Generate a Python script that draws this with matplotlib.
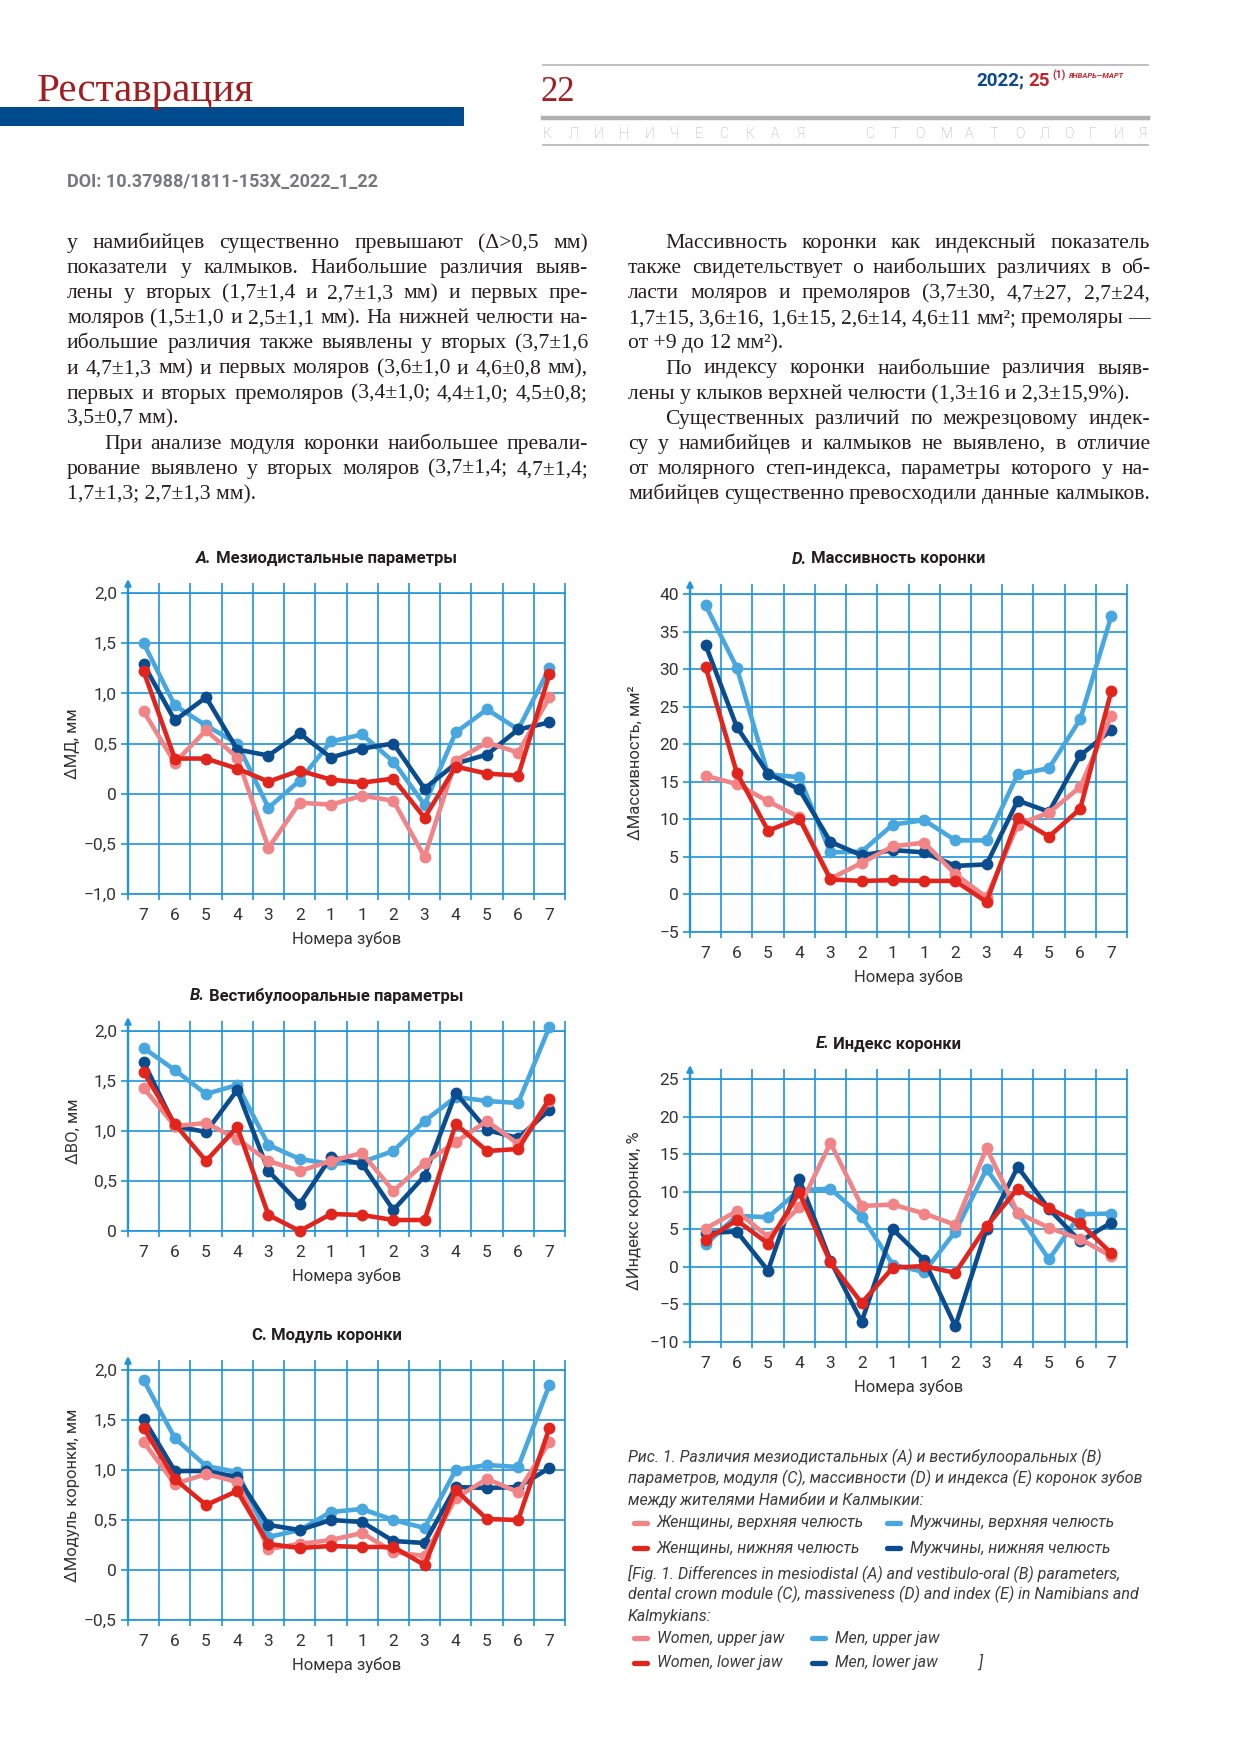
import matplotlib
matplotlib.use("Agg")
import matplotlib.pyplot as plt
from matplotlib.lines import Line2D
from matplotlib.patches import Rectangle
import numpy as np

# ---- data ----
teeth = ["7", "6", "5", "4", "3", "2", "1", "1", "2", "3", "4", "5", "6", "7"]

A_women_upper = [0.82, 0.31, 0.63, 0.36, -0.54, -0.09, -0.11, -0.02, -0.07, -0.63, 0.33, 0.51, 0.41, 0.96]
A_women_lower = [1.22, 0.35, 0.35, 0.25, 0.12, 0.23, 0.14, 0.11, 0.15, -0.24, 0.27, 0.20, 0.18, 1.19]
A_men_upper = [1.50, 0.88, 0.68, 0.50, -0.14, 0.13, 0.52, 0.59, 0.32, -0.11, 0.61, 0.84, 0.64, 1.25]
A_men_lower = [1.29, 0.73, 0.96, 0.44, 0.38, 0.60, 0.36, 0.45, 0.50, 0.05, 0.30, 0.39, 0.64, 0.71]

B_women_upper = [1.43, 1.05, 1.08, 0.92, 0.70, 0.60, 0.70, 0.78, 0.40, 0.68, 0.89, 1.10, 0.87, 1.30]
B_women_lower = [1.59, 1.07, 0.70, 1.04, 0.16, 0.00, 0.17, 0.16, 0.11, 0.11, 1.07, 0.80, 0.82, 1.32]
B_men_upper = [1.83, 1.61, 1.37, 1.46, 0.86, 0.72, 0.67, 0.69, 0.80, 1.10, 1.34, 1.30, 1.28, 2.04]
B_men_lower = [1.69, 1.05, 0.99, 1.41, 0.60, 0.27, 0.74, 0.67, 0.21, 0.55, 1.38, 1.01, 0.93, 1.21]

C_women_upper = [1.28, 0.86, 0.96, 0.88, 0.21, 0.26, 0.30, 0.37, 0.18, 0.14, 0.72, 0.91, 0.78, 1.28]
C_women_lower = [1.42, 0.91, 0.65, 0.79, 0.26, 0.22, 0.24, 0.23, 0.23, 0.05, 0.80, 0.51, 0.50, 1.42]
C_men_upper = [1.90, 1.32, 1.04, 0.98, 0.33, 0.40, 0.58, 0.61, 0.50, 0.42, 1.00, 1.05, 1.03, 1.85]
C_men_lower = [1.51, 0.99, 0.99, 0.93, 0.45, 0.40, 0.50, 0.48, 0.29, 0.27, 0.83, 0.82, 0.83, 1.02]

D_women_upper = [15.8, 14.7, 12.4, 10.3, 2.1, 4.2, 6.4, 6.9, 2.7, -0.4, 9.3, 10.9, 14.3, 23.8]
D_women_lower = [30.3, 16.2, 8.5, 10.1, 2.0, 1.8, 1.9, 1.8, 1.8, -1.0, 10.2, 7.7, 11.4, 27.1]
D_men_upper = [38.5, 30.2, 16.0, 15.6, 5.6, 5.7, 9.3, 9.9, 7.2, 7.2, 16.0, 16.8, 23.3, 37.1]
D_men_lower = [33.2, 22.3, 16.1, 14.0, 7.0, 5.2, 5.9, 5.6, 3.8, 4.0, 12.5, 11.0, 18.5, 21.9]

E_women_upper = [5.1, 7.4, 4.0, 7.9, 16.5, 8.1, 8.3, 7.1, 5.6, 15.8, 7.2, 5.2, 3.7, 1.4]
E_women_lower = [3.6, 6.2, 3.1, 9.9, 0.6, -4.8, -0.1, 0.1, -0.8, 5.4, 10.4, 7.8, 5.8, 1.8]
E_men_upper = [3.0, 6.8, 6.6, 10.2, 10.4, 6.7, 0.3, -0.7, 4.7, 13.0, 7.2, 1.0, 7.0, 7.1]
E_men_lower = [4.5, 4.7, -0.5, 11.7, 0.8, -7.3, 5.0, 0.9, -7.9, 5.0, 13.3, 7.7, 3.4, 5.9]

ticks_A = [-1.0, -0.5, 0, 0.5, 1.0, 1.5, 2.0]
ticks_B = [0, 0.5, 1.0, 1.5, 2.0]
ticks_C = [-0.5, 0, 0.5, 1.0, 1.5, 2.0]
ticks_D = [-5, 0, 5, 10, 15, 20, 25, 30, 35, 40]
ticks_E = [-10, -5, 0, 5, 10, 15, 20, 25]

body_left = [
    ("у намибийцев существенно превышают (Δ>0,5 мм)", "j"),
    ("показатели у калмыков. Наибольшие различия выяв-", "j"),
    ("лены у вторых (1,7±1,4 и 2,7±1,3 мм) и первых пре-", "j"),
    ("моляров (1,5±1,0 и 2,5±1,1 мм). На нижней челюсти на-", "j"),
    ("ибольшие различия также выявлены у вторых (3,7±1,6", "j"),
    ("и 4,7±1,3 мм) и первых моляров (3,6±1,0 и 4,6±0,8 мм),", "j"),
    ("первых и вторых премоляров (3,4±1,0; 4,4±1,0; 4,5±0,8;", "j"),
    ("3,5±0,7 мм).", "l"),
    ("При анализе модуля коронки наибольшее превали-", "ij"),
    ("рование выявлено у вторых моляров (3,7±1,4; 4,7±1,4;", "j"),
    ("1,7±1,3; 2,7±1,3 мм).", "l"),
]
body_right = [
    ("Массивность коронки как индексный показатель", "ij"),
    ("также свидетельствует о наибольших различиях в об-", "j"),
    ("ласти моляров и премоляров (3,7±30, 4,7±27, 2,7±24,", "j"),
    ("1,7±15, 3,6±16, 1,6±15, 2,6±14, 4,6±11 мм²; премоляры —", "j"),
    ("от +9 до 12 мм²).", "l"),
    ("По индексу коронки наибольшие различия выяв-", "ij"),
    ("лены у клыков верхней челюсти (1,3±16 и 2,3±15,9%).", "l"),
    ("Существенных различий по межрезцовому индек-", "ij"),
    ("су у намибийцев и калмыков не выявлено, в отличие", "j"),
    ("от молярного степ-индекса, параметры которого у на-", "j"),
    ("мибийцев существенно превосходили данные калмыков.", "j"),
]

caption_ru = ["Рис. 1. Различия мезиодистальных (A) и вестибулооральных (B)",
              "параметров, модуля (C), массивности (D) и индекса (E) коронок зубов",
              "между жителями Намибии и Калмыкии:"]
caption_en = ["[Fig. 1. Differences in mesiodistal (A) and vestibulo-oral (B) parameters,",
              "dental crown module (C), massiveness (D) and index (E) in Namibians and",
              "Kalmykians:"]
legend_ru = ["Женщины, верхняя челюсть", "Мужчины, верхняя челюсть",
             "Женщины, нижняя челюсть", "Мужчины, нижняя челюсть"]
legend_en = ["Women, upper jaw", "Men, upper jaw", "Women, lower jaw", "Men, lower jaw"]

# ---- styles ----
C_WU = "#f08486"
C_WL = "#e2251c"
C_MU = "#47a7de"
C_ML = "#0b4c8e"
GRID = "#1f95d8"
TXT = "#333333"
SANS = ["Roboto", "DejaVu Sans"]
SERIF = ["Liberation Serif", "DejaVu Serif"]

W, H = 1240, 1754
fig = plt.figure(figsize=(12.4, 17.54), dpi=100)
fig.patch.set_facecolor("white")
renderer = fig.canvas.get_renderer()


def fx(px):
    return px / W


def fy(py):
    return 1 - py / H


def hline(x0, x1, y, color, lw):
    fig.add_artist(Line2D([fx(x0), fx(x1)], [fy(y), fy(y)], color=color, lw=lw,
                          transform=fig.transFigure))


def put_line(x0, x1, yb, text, mode, **kw):
    if mode.startswith("i"):
        x0 += 37
    if mode.endswith("l"):
        fig.text(fx(x0), fy(yb), text, va="baseline", **kw)
        return
    words = text.split(" ")
    arts = [fig.text(0, fy(yb), w, va="baseline", **kw) for w in words]
    widths = [a.get_window_extent(renderer).width for a in arts]
    gap = max(3.5, (x1 - x0 - sum(widths)) / (len(words) - 1))
    x = x0
    for a, w in zip(arts, widths):
        a.set_x(fx(x))
        x += w + gap


def tick_label(v, decimals):
    if v == 0:
        return "0"
    s = f"{v:.{decimals}f}".replace(".", ",")
    return s.replace("-", "\u2212")


def chart(box, ticks, decimals, series, letter, italic, title, ylabel):
    x0, y0, x1, y1 = box
    ax = fig.add_axes([fx(x0), fy(y1), (x1 - x0) / W, (y1 - y0) / H])
    pos = np.arange(len(teeth)) + 0.5
    for vals, col in series:
        ax.plot(pos, vals, color=col, lw=3.3, marker="o", ms=7.5,
                solid_joinstyle="round", solid_capstyle="round", zorder=3, clip_on=False)
    ax.set_xlim(0, len(teeth))
    ax.set_ylim(ticks[0], ticks[-1])
    ax.set_yticks(ticks)
    ax.set_yticklabels([tick_label(t, decimals) for t in ticks])
    ax.set_xticks(pos)
    ax.set_xticklabels(teeth)
    ax.set_xticks(np.arange(len(teeth) + 1), minor=True)
    ax.grid(True, which="major", axis="y", color=GRID, lw=1.2)
    ax.grid(True, which="minor", axis="x", color=GRID, lw=1.2)
    ax.grid(False, which="major", axis="x")
    ax.tick_params(axis="x", which="major", length=0, pad=10, labelsize=12.5, labelcolor=TXT)
    ax.tick_params(axis="x", which="minor", direction="out", length=4.5, width=1.2,
                   color=GRID, top=True)
    for t in ax.xaxis.get_minor_ticks():
        t.tick2line.set_markersize(7)
    ax.tick_params(axis="y", direction="out", length=5, width=1.2, color=GRID,
                   labelsize=12.5, labelcolor=TXT, pad=3)
    for s in ax.spines.values():
        s.set_color(GRID)
        s.set_linewidth(1.2)
    ax.spines["left"].set_linewidth(1.7)
    ax.annotate("", xy=(0, 1 + 14 / (y1 - y0)), xytext=(0, 1), xycoords="axes fraction",
                arrowprops=dict(arrowstyle="-|>", color=GRID, lw=1.7, mutation_scale=9,
                                shrinkA=0, shrinkB=0),
                annotation_clip=False)
    for lab in ax.get_xticklabels() + ax.get_yticklabels():
        lab.set_family(SANS)

    # title: letter in bold (italic), rest bold, centred a bit left of the plot centre
    cx = (x0 + x1) / 2 - 20
    ty = y0 - 35
    t1 = fig.text(0, fy(ty), letter + ".", fontsize=12, fontweight="bold",
                  style="italic" if italic else "normal", family=SANS, color="#231f20",
                  va="center")
    t2 = fig.text(0, fy(ty), " " + title, fontsize=12, fontweight="bold", family=SANS,
                  color="#231f20", va="center")
    w1 = t1.get_window_extent(renderer).width
    w2 = t2.get_window_extent(renderer).width
    t1.set_x(fx(cx - (w1 + w2) / 2))
    t2.set_x(fx(cx - (w1 + w2) / 2 + w1))

    fig.text(fx((x0 + x1) / 2), fy(y1 + 45), "Номера зубов", fontsize=12, family=SANS,
             color=TXT, ha="center", va="center")
    fig.text(fx(x0 - 55), fy((y0 + y1) / 2), ylabel, fontsize=12, family=SANS,
             color=TXT, ha="center", va="center", rotation=90)
    return ax


# ---- page header ----
fig.text(fx(37), fy(101), "Реставрация", fontsize=29.5, family=SERIF, color="#a11d21",
         va="baseline")
fig.add_artist(Rectangle((0, fy(126)), fx(464), (126 - 107) / H, color="#004b8d",
                         transform=fig.transFigure, lw=0))
fig.text(fx(541), fy(101), "22", fontsize=25, family=SERIF, color="#a11d21", va="baseline")
hline(543, 1148, 65, "#b5b5b5", 1.2)
hline(543, 1148, 118, "#b0b0b0", 3.2)
hline(543, 1148, 145, "#b5b5b5", 1.2)

t = fig.text(fx(976), fy(81), "2022;", fontsize=13.5, fontweight="bold", family=SANS,
             color="#0d4a8c", va="center")
x = 976 + t.get_window_extent(renderer).width
t = fig.text(fx(x + 4), fy(81), "25", fontsize=13.5, fontweight="bold", family=SANS,
             color="#c0272d", va="center")
x = x + 4 + t.get_window_extent(renderer).width
t = fig.text(fx(x + 3), fy(75), "(1)", fontsize=7.5, fontweight="bold", family=SANS,
             color="#c0272d", va="center")
x = x + 3 + t.get_window_extent(renderer).width
fig.text(fx(x + 3), fy(76), "ЯНВАРЬ—МАРТ", fontsize=5.5, fontweight="bold", style="italic",
         family=SANS, color="#c0272d", va="center")

for i, ch in enumerate("КЛИНИЧЕСКАЯ"):
    fig.text(fx(543 + i * 25.3), fy(134), ch, fontsize=10, family=SANS, color="#a7a9ac",
             va="center", fontweight="light")
for i, ch in enumerate("СТОМАТОЛОГИЯ"):
    fig.text(fx(866 + i * 24.8), fy(134), ch, fontsize=10, family=SANS, color="#a7a9ac",
             va="center", fontweight="light")

fig.text(fx(67), fy(182), "DOI: 10.37988/1811-153X_2022_1_22", fontsize=13,
         fontweight="bold", family=SANS, color="#77787b", va="center")

# ---- body text ----
for i, (txt, mode) in enumerate(body_left):
    put_line(67, 588, 248 + i * 25.1, txt, mode, fontsize=15.6, family=SERIF, color="#231f20")
for i, (txt, mode) in enumerate(body_right):
    put_line(628, 1150, 248 + i * 25.1, txt, mode, fontsize=15.6, family=SERIF, color="#231f20")

# ---- charts ----
chart((128, 593, 565, 894), ticks_A, 1,
      [(A_men_upper, C_MU), (A_men_lower, C_ML), (A_women_upper, C_WU), (A_women_lower, C_WL)],
      "A", True, "Мезиодистальные параметры", "ΔМД, мм")
chart((128, 1031, 565, 1231), ticks_B, 1,
      [(B_men_upper, C_MU), (B_men_lower, C_ML), (B_women_upper, C_WU), (B_women_lower, C_WL)],
      "B", True, "Вестибулооральные параметры", "ΔВО, мм")
chart((128, 1370, 565, 1620), ticks_C, 1,
      [(C_men_upper, C_MU), (C_men_lower, C_ML), (C_women_upper, C_WU), (C_women_lower, C_WL)],
      "C", False, "Модуль коронки", "ΔМодуль коронки, мм")
chart((690, 594, 1127, 932), ticks_D, 0,
      [(D_men_upper, C_MU), (D_men_lower, C_ML), (D_women_upper, C_WU), (D_women_lower, C_WL)],
      "D", True, "Массивность коронки", "ΔМассивность, мм²")
chart((690, 1079, 1127, 1342), ticks_E, 0,
      [(E_men_upper, C_MU), (E_men_lower, C_ML), (E_women_upper, C_WU), (E_women_lower, C_WL)],
      "E", True, "Индекс коронки", "ΔИндекс коронки, %")

# ---- caption with legend ----
CAP = "#3c3c3c"
cap_kw = dict(fontsize=11.5, style="italic", family=SANS, color=CAP, va="center")
for i, line in enumerate(caption_ru):
    fig.text(fx(628), fy(1457 + i * 21.5), line, **cap_kw)
for i, line in enumerate(caption_en):
    fig.text(fx(628), fy(1573 + i * 21.5), line, **cap_kw)

leg_colors = [C_WU, C_MU, C_WL, C_ML]
for k, (lab, col) in enumerate(zip(legend_ru, leg_colors)):
    y = 1523 + (k // 2) * 25
    xs = 634 if k % 2 == 0 else 887
    fig.add_artist(Line2D([fx(xs), fx(xs + 13)], [fy(y), fy(y)], color=col, lw=3.8,
                          solid_capstyle="round", transform=fig.transFigure))
    fig.text(fx(xs + 23), fy(y), lab, **cap_kw)
for k, (lab, col) in enumerate(zip(legend_en, leg_colors)):
    y = 1638 + (k // 2) * 25
    xs = 634 if k % 2 == 0 else 812
    fig.add_artist(Line2D([fx(xs), fx(xs + 13)], [fy(y), fy(y)], color=col, lw=3.8,
                          solid_capstyle="round", transform=fig.transFigure))
    fig.text(fx(xs + 23), fy(y), lab, **cap_kw)
fig.text(fx(978), fy(1663), "]", **cap_kw)

fig.savefig("out.png", dpi=100, facecolor="white")
